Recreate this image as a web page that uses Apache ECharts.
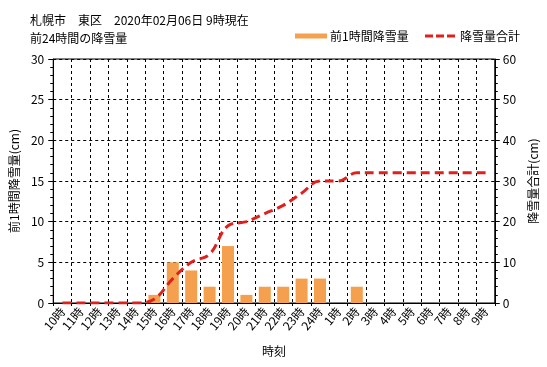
<!DOCTYPE html>
<html>
<head>
<meta charset="utf-8">
<script src="https://cdn.jsdelivr.net/npm/echarts@6/dist/echarts.min.js"></script>
<style>
html,body{margin:0;padding:0;background:#fff;}
#chart{width:547px;height:367px;}
</style>
</head>
<body>
<div id="chart"></div>
<script>
var categories = ['10時','11時','12時','13時','14時','15時','16時','17時','18時','19時','20時','21時','22時','23時','24時','1時','2時','3時','4時','5時','6時','7時','8時','9時'];
var hourlySnow = [0,0,0,0,0,1,5,4,2,7,1,2,2,3,3,0,2,0,0,0,0,0,0,0];
var totalSnow = [0,0,0,0,0,1,6,10,12,19,20,22,24,27,30,30,32,32,32,32,32,32,32,32];
var titleLines = ['札幌市　東区　2020年02月06日 9時現在', '前24時間の降雪量'];
var seriesNames = ['前1時間降雪量', '降雪量合計'];
var axisNames = {x: '時刻', left: '前1時間降雪量(cm)', right: '降雪量合計(cm)'};

var FONT = '"Noto Sans CJK JP", "Noto Sans", sans-serif';
var chart = echarts.init(document.getElementById('chart'));
var dashGrid = {show: true, lineStyle: {color: '#000', type: [3, 3], width: 1}};
chart.setOption({
  animation: false,
  textStyle: {fontFamily: FONT, color: '#000'},
  title: {
    text: titleLines.join('\n'),
    left: 30, top: 11, padding: 0,
    textStyle: {fontFamily: FONT, fontSize: 12, fontWeight: 'normal', color: '#000', lineHeight: 18}
  },
  legend: [{
    data: [seriesNames[0]],
    left: 295, top: 30, padding: 0,
    icon: 'rect', itemWidth: 32, itemHeight: 5, itemGap: 3,
    textStyle: {fontFamily: FONT, fontSize: 12, color: '#000', padding: [0,0,0,-2]}
  }, {
    data: [{name: seriesNames[1], icon: 'path://M0,0H8V3H0Z M11,0H19V3H11Z M22,0H30V3H22Z'}],
    left: 425, top: 30, padding: 0,
    itemWidth: 30, itemHeight: 3, itemGap: 3,
    itemStyle: {color: '#e0201c'},
    textStyle: {fontFamily: FONT, fontSize: 12, color: '#000', padding: [0,0,0,0]}
  }],
  grid: {left: 50.5, right: 49, top: 59, bottom: 64, show: true, borderColor: '#000', borderWidth: 1, containLabel: false},
  xAxis: {
    type: 'category', data: categories, boundaryGap: true,
    name: axisNames.x, nameLocation: 'middle', nameGap: 42,
    nameTextStyle: {fontFamily: FONT, fontSize: 12, color: '#000'},
    axisLine: {lineStyle: {color: '#000', width: 1}},
    axisTick: {show: true, length: 3, lineStyle: {color: '#000'}},
    axisLabel: {rotate: 50, margin: 6, fontFamily: FONT, fontSize: 12, color: '#000', interval: 0},
    splitLine: dashGrid
  },
  yAxis: [{
    type: 'value', min: 0, max: 30, interval: 5, position: 'left',
    name: axisNames.left, nameLocation: 'middle', nameGap: 31, nameRotate: 90,
    nameTextStyle: {fontFamily: FONT, fontSize: 12, color: '#000'},
    axisLine: {show: true, lineStyle: {color: '#000'}},
    axisTick: {show: true, length: 5, lineStyle: {color: '#000'}},
    minorTick: {show: true, splitNumber: 5, length: 3, lineStyle: {color: '#000'}},
    axisLabel: {margin: 9, fontFamily: FONT, fontSize: 12, color: '#000'},
    splitLine: dashGrid
  }, {
    type: 'value', min: 0, max: 60, interval: 10, position: 'right',
    name: axisNames.right, nameLocation: 'middle', nameGap: 32, nameRotate: 90,
    nameTextStyle: {fontFamily: FONT, fontSize: 12, color: '#000'},
    axisLine: {show: true, lineStyle: {color: '#000'}},
    axisTick: {show: true, length: 5, lineStyle: {color: '#000'}},
    minorTick: {show: true, splitNumber: 5, length: 3, lineStyle: {color: '#000'}},
    axisLabel: {margin: 8, fontFamily: FONT, fontSize: 12, color: '#000'},
    splitLine: {show: false}
  }],
  series: [{
    name: seriesNames[0], type: 'bar', data: hourlySnow, yAxisIndex: 0,
    barWidth: 12,
    itemStyle: {color: '#f5a04f'}
  }, {
    name: seriesNames[1], type: 'line', data: totalSnow, yAxisIndex: 1,
    smooth: 0.4, showSymbol: false, symbol: 'none',
    lineStyle: {color: '#e0201c', width: 3, type: [9, 5]},
    itemStyle: {color: '#e0201c'},
    z: 5
  }]
});
</script>
</body>
</html>
